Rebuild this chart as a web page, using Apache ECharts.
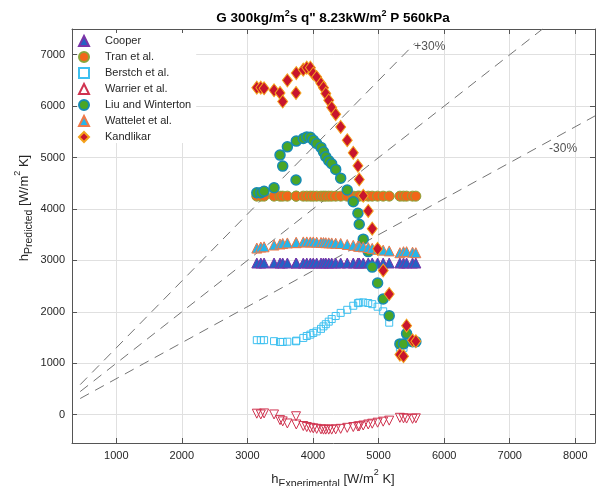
<!DOCTYPE html>
<html>
<head>
<meta charset="utf-8">
<script src="https://cdn.jsdelivr.net/npm/echarts@6/dist/echarts.min.js"></script>
<style>
  html, body { margin: 0; padding: 0; background: #fff; }
  #chart { width: 608px; height: 486px; }
</style>
</head>
<body>
<div id="chart"></div>
<script>
// Experimental heat transfer coefficients [W/m^2 K], shared by every correlation
const expX = [3143, 3204, 3254, 3406, 3497, 3538, 3609, 3741, 3745, 3852,
              3905, 3960, 4004, 4056, 4122, 4160, 4195, 4240, 4285, 4346,
              4422, 4522, 4614, 4685, 4705, 4766, 4842, 4903, 4985, 5070,
              5162, 5325, 5380, 5427, 5518, 5568];

// Predicted values per correlation [W/m^2 K]
const cooper = [2950, 2950, 2950, 2950, 2950, 2950, 2950, 2950, 2950, 2950,
                2950, 2950, 2950, 2950, 2950, 2950, 2950, 2950, 2950, 2950,
                2950, 2950, 2950, 2950, 2950, 2950, 2950, 2950, 2950, 2950,
                2950, 2950, 2950, 2950, 2950, 2950];
const tran = [4250, 4250, 4250, 4250, 4250, 4250, 4250, 4250, 4250, 4250,
              4250, 4250, 4250, 4250, 4250, 4250, 4250, 4250, 4250, 4250,
              4250, 4250, 4250, 4250, 4250, 4250, 4250, 4250, 4250, 4250,
              4250, 4250, 4250, 4250, 4250, 4250];
const berstch = [1450, 1450, 1450, 1430, 1415, 1415, 1420, 1428, 1440, 1493,
                 1530, 1557, 1590, 1620, 1670, 1718, 1760, 1810, 1860, 1920,
                 1980, 2040, 2119, 2170, 2180, 2184, 2172, 2150, 2100, 2010,
                 1790, 1300, 1300, 1500, 1400, 1400];
const warrier = [20, 5, 25, 5, -105, -130, -170, -30, -190, -220,
                 -240, -255, -265, -275, -285, -290, -290, -290, -290, -285,
                 -275, -255, -240, -230, -225, -210, -190, -175, -155, -135,
                 -115, -60, -70, -75, -80, -70];
const liuWinterton = [4317, 4317, 4344, 4413, 5048, 4834, 5209, 4563, 5320, 5371,
                      5402, 5395, 5338, 5274, 5197, 5111, 5015, 4940, 4880, 4770,
                      4600, 4369, 4142, 3917, 3704, 3413, 3172, 2870, 2560, 2249,
                      1926, 1377, 1377, 1577, 1420, 1420];
const wattelet = [3240, 3260, 3265, 3300, 3320, 3330, 3340, 3345, 3350, 3360,
                  3360, 3360, 3360, 3355, 3350, 3348, 3345, 3342, 3340, 3335,
                  3330, 3310, 3295, 3280, 3275, 3265, 3250, 3235, 3215, 3200,
                  3185, 3150, 3170, 3170, 3160, 3150];
const kandlikar = [6360, 6360, 6347, 6308, 6256, 6089, 6502, 6256, 6643, 6709,
                   6748, 6748, 6632, 6566, 6438, 6360, 6244, 6114, 5972, 5842,
                   5596, 5338, 5092, 4840, 4576, 4258, 3962, 3618, 3225, 2804,
                   2346, 1169, 1137, 1732, 1447, 1428];

// Parity lines: predicted = ratio * experimental
const refRatios = [1.3, 1.0, 0.7];
const refStart = [450, 450, 450];
const refEnd = [5560, 7500, 8300];
const refLabels = ['+30%', '-30%'];
const refLabelRatio = [1.3, 0.7];
const refLabelX = [5560, 7600];

const FONT = '"Liberation Sans", Arial, Helvetica, sans-serif';
const pairs = vals => expX.map((x, i) => [x, vals[i]]);

const correlations = [
  { name: 'Cooper', vals: cooper, symbol: 'triangle', size: 10, rotate: 0,
    fill: '#2462c4', edge: '#7a34a8', bw: 1 },
  { name: 'Tran et al.', vals: tran, symbol: 'circle', size: 10, rotate: 0,
    fill: '#f2661a', edge: '#8aa53a', bw: 1 },
  { name: 'Berstch et al.', vals: berstch, symbol: 'rect', size: 7, rotate: 0,
    fill: 'rgba(0,0,0,0)', edge: '#3ec0f0', bw: 1 },
  { name: 'Warrier et al.', vals: warrier, symbol: 'triangle', size: 9, rotate: 180,
    fill: 'rgba(0,0,0,0)', edge: '#d0334f', bw: 1 },
  { name: 'Liu and Winterton', vals: liuWinterton, symbol: 'circle', size: 10, rotate: 0,
    fill: '#4aa626', edge: '#168bb4', bw: 1.5 },
  { name: 'Wattelet et al.', vals: wattelet, symbol: 'triangle', size: 10, rotate: 0,
    fill: '#25b6ea', edge: '#f07848', bw: 1 },
  { name: 'Kandlikar', vals: kandlikar, symbol: 'diamond', size: [10, 13], rotate: 0,
    fill: '#c8142c', edge: '#f4a21c', bw: 1 }
];

const series = [];

refRatios.forEach((r, i) => {
  series.push({
    type: 'line',
    silent: true,
    symbol: 'none',
    z: 1,
    data: [[refStart[i], refStart[i] * r], [refEnd[i], refEnd[i] * r]],
    lineStyle: { color: '#747474', width: 1, type: [10, 7] }
  });
});

series.push({
  type: 'scatter',
  silent: true,
  symbolSize: 0,
  z: 3,
  data: refLabels.map((t, i) => ({
    name: t,
    value: [refLabelX[i], refLabelX[i] * refLabelRatio[i]],
    label: { offset: i === 0 ? [-1, 4] : [0, 8] }
  })),
  label: {
    show: true, position: 'right', distance: 0, formatter: '{b}',
    color: '#262626', fontSize: 12, fontFamily: FONT
  }
});

correlations.forEach(c => {
  series.push({
    name: c.name,
    type: 'scatter',
    z: 2,
    symbol: c.symbol,
    symbolSize: c.size,
    symbolRotate: c.rotate,
    data: pairs(c.vals),
    itemStyle: { color: c.fill, borderColor: c.edge, borderWidth: c.bw, opacity: 1 }
  });
});

const axisColor = '#555555';
const gridColor = '#e0e0e0';
const plainNumber = v => String(Math.round(v));

const baseX = {
  type: 'value', min: 325, max: 8300, splitNumber: 8,
  minInterval: 1000, maxInterval: 1000
};
const baseY = {
  type: 'value', min: -550, max: 7500, splitNumber: 8,
  minInterval: 1000, maxInterval: 1000
};

const option = {
  animation: false,
  backgroundColor: '#ffffff',
  grid: { left: 72, right: 13, top: 29, bottom: 43, containLabel: false },
  xAxis: [
    Object.assign({}, baseX, {
      position: 'bottom',
      axisLine: { show: true, onZero: false, lineStyle: { color: axisColor, width: 1 } },
      axisTick: { show: true, inside: true, length: 5, lineStyle: { color: axisColor } },
      axisLabel: { showMinLabel: false, showMaxLabel: false, color: '#262626',
                   fontSize: 11, fontFamily: FONT, margin: 7, formatter: plainNumber },
      splitLine: { show: true, lineStyle: { color: gridColor, width: 1 } }
    }),
    Object.assign({}, baseX, {
      position: 'top',
      axisLine: { show: true, onZero: false, lineStyle: { color: axisColor, width: 1 } },
      axisTick: { show: true, inside: true, length: 5, lineStyle: { color: axisColor } },
      axisLabel: { show: false },
      splitLine: { show: false }
    })
  ],
  yAxis: [
    Object.assign({}, baseY, {
      position: 'left',
      axisLine: { show: true, onZero: false, lineStyle: { color: axisColor, width: 1 } },
      axisTick: { show: true, inside: true, length: 5, lineStyle: { color: axisColor } },
      axisLabel: { showMinLabel: false, showMaxLabel: false, color: '#262626',
                   fontSize: 11, fontFamily: FONT, margin: 7, formatter: plainNumber },
      splitLine: { show: true, lineStyle: { color: gridColor, width: 1 } }
    }),
    Object.assign({}, baseY, {
      position: 'right',
      axisLine: { show: true, onZero: false, lineStyle: { color: axisColor, width: 1 } },
      axisTick: { show: true, inside: true, length: 5, lineStyle: { color: axisColor } },
      axisLabel: { show: false },
      splitLine: { show: false }
    })
  ],
  legend: {
    orient: 'vertical',
    left: 78, top: 33,
    padding: [2, 5, 0, 0],
    itemWidth: 10, itemHeight: 10, itemGap: 4,
    backgroundColor: '#ffffff',
    selectedMode: false,
    textStyle: { fontSize: 11, color: '#262626', fontFamily: FONT,
                 lineHeight: 10, padding: [0, 0, 0, 11] },
    data: correlations.map(c => c.name)
  },
  graphic: [
    {
      type: 'text', x: 333, y: 18, silent: true,
      style: {
        text: '{m|G 300kg/m}{s|2}{m|s q" 8.23kW/m}{s|2}{m| P 560kPa}',
        align: 'center', verticalAlign: 'middle',
        rich: {
          m: { fontSize: 13.5, fontWeight: 'bold', fontFamily: FONT, lineHeight: 18, fill: '#000' },
          s: { fontSize: 9, fontWeight: 'bold', fontFamily: FONT, lineHeight: 9,
               verticalAlign: 'top', fill: '#000' }
        }
      }
    },
    {
      type: 'text', x: 333, y: 479, silent: true,
      style: {
        text: '{m|h}{b|Experimental}{m| [W/m}{s|2}{m| K]}',
        align: 'center', verticalAlign: 'middle',
        rich: {
          m: { fontSize: 13, fontFamily: FONT, lineHeight: 22, fill: '#262626' },
          s: { fontSize: 9, fontFamily: FONT, lineHeight: 9, verticalAlign: 'top', fill: '#262626' },
          b: { fontSize: 10.5, fontFamily: FONT, lineHeight: 10, verticalAlign: 'bottom', fill: '#262626' }
        }
      }
    },
    {
      type: 'text', x: 24, y: 208, rotation: Math.PI / 2, silent: true,
      style: {
        text: '{m|h}{b|Predicted}{m| [W/m}{s|2}{m| K]}',
        align: 'center', verticalAlign: 'middle',
        rich: {
          m: { fontSize: 13, fontFamily: FONT, lineHeight: 22, fill: '#262626' },
          s: { fontSize: 9, fontFamily: FONT, lineHeight: 9, verticalAlign: 'top', fill: '#262626' },
          b: { fontSize: 10.5, fontFamily: FONT, lineHeight: 10, verticalAlign: 'bottom', fill: '#262626' }
        }
      }
    }
  ],
  series: series
};

const chart = echarts.init(document.getElementById('chart'), null, { renderer: 'canvas' });
chart.setOption(option);
</script>
</body>
</html>
